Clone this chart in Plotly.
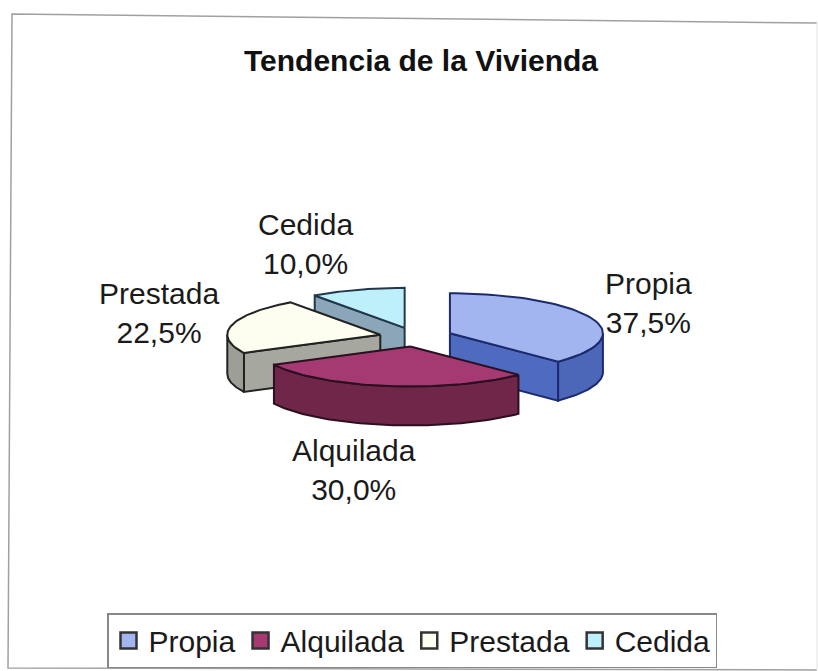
import numpy as np
import plotly.graph_objects as go

# Data
categories = ["Propia", "Alquilada", "Prestada", "Cedida"]
values = [37.5, 30.0, 22.5, 10.0]

top_colors = ["#a3b5ef", "#a53a72", "#fdfdf0", "#bdf0fa"]
arc_colors = ["#4c66b8", "#6f2649", "#9d9e96", "#8fa8b5"]
cut_colors = ["#4f6bc0", "#6f2649", "#a6a79f", "#8aa6b8"]
edge_colors = ["#1c2b6e", "#2a1020", "#222222", "#22384a"]
draw_order = [3, 2, 0, 1]

label_pos = [(648, 303), (354, 470), (159, 313), (305, 244)]

CX, CY = 416, 337
RX, RY = 153, 40
DEPTH = 39
EXPLODE = 0.24
FONT = "Liberation Sans, Arial, sans-serif"


def arc(a0, a1, ox, oy, dy=0):
    t = np.radians(np.linspace(a0, a1, 60))
    return ox + RX * np.sin(t), oy - RY * np.cos(t) + dy


def face(fig, xs, ys, fill, edge):
    fig.add_trace(go.Scatter(
        x=list(xs), y=list(ys), mode="lines", fill="toself", fillcolor=fill,
        line=dict(color=edge, width=2), showlegend=False, hoverinfo="skip",
    ))


fig = go.Figure()

# Slices, back to front, projected from the values
ends = np.cumsum(values) / sum(values) * 360
for i in draw_order:
    a1 = ends[i]
    a0 = a1 - values[i] / sum(values) * 360
    mid = np.radians((a0 + a1) / 2)
    ox = CX + EXPLODE * RX * np.sin(mid)
    oy = CY - EXPLODE * RY * np.cos(mid)

    # cut faces
    for a, show in ((a0, 180 < a0 < 360), (a1, 0 < a1 < 180)):
        if show:
            px = ox + RX * np.sin(np.radians(a))
            py = oy - RY * np.cos(np.radians(a))
            face(fig, [ox, px, px, ox, ox], [oy, py, py + DEPTH, oy + DEPTH, oy],
                 cut_colors[i], edge_colors[i])

    # outer wall
    lo, hi = max(a0, 90), min(a1, 270)
    if lo < hi:
        xt, yt = arc(lo, hi, ox, oy)
        xb, yb = arc(hi, lo, ox, oy, DEPTH)
        face(fig, [*xt, *xb, xt[0]], [*yt, *yb, yt[0]], arc_colors[i], edge_colors[i])

    # top
    xt, yt = arc(a0, a1, ox, oy)
    face(fig, [ox, *xt, ox], [oy, *yt, oy], top_colors[i], edge_colors[i])

# Legend entries
for name, col in zip(categories, top_colors):
    fig.add_trace(go.Scatter(
        x=[None], y=[None], mode="markers", name=name,
        marker=dict(symbol="square", size=16, color=col, line=dict(color="#333333", width=2.5)),
    ))

for name, val, (lx, ly) in zip(categories, values, label_pos):
    fig.add_annotation(
        x=lx, y=ly, xref="x", yref="y", showarrow=False,
        text=f"{name}<br>{val:.1f}%".replace(".", ","),
        font=dict(family=FONT, size=30, color="#1a1a1a"),
    )

fig.add_annotation(
    x=421, y=60, xref="x", yref="y", showarrow=False,
    text="<b>Tendencia de la Vivienda</b>",
    font=dict(family=FONT, size=30, color="#111111"),
)

# Chart frame, slightly skewed like the scanned page; the right side almost fades out
fig.add_shape(type="path", path="M 817 23 L 12 14 L 8 668 L 817 670", xref="x", yref="y",
              line=dict(color="#a0a0a0", width=1.5), layer="below")
fig.add_shape(type="line", x0=817, y0=23, x1=817, y1=670, xref="x", yref="y",
              line=dict(color="#ececec", width=1.5), layer="below")

fig.update_layout(
    width=818, height=671,
    margin=dict(l=0, r=0, t=0, b=0),
    paper_bgcolor="white", plot_bgcolor="white",
    xaxis=dict(range=[0, 818], visible=False, fixedrange=True),
    yaxis=dict(range=[671, 0], visible=False, fixedrange=True),
    legend=dict(
        orientation="h", x=107 / 818, y=1 - 613 / 671, xanchor="left", yanchor="top",
        bordercolor="#888888", borderwidth=1.5, bgcolor="white",
        font=dict(family=FONT, size=30, color="#1a1a1a"),
        itemclick=False, itemdoubleclick=False,
    ),
)

fig.write_html("out.html", config=dict(displayModeBar=False),
               post_script="document.body.style.margin='0';")
